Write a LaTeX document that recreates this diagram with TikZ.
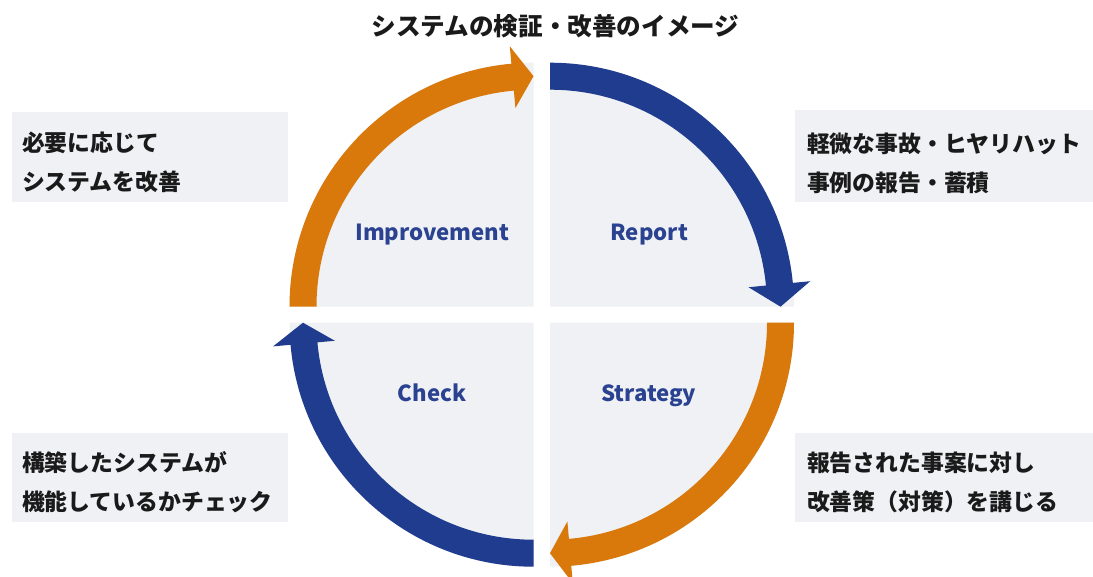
\documentclass[tikz,border=0pt]{standalone}
\usepackage{fontspec}
\setmainfont{Noto Sans CJK JP}
\definecolor{ink}{HTML}{1A1A1A}
\definecolor{navy}{HTML}{1F3C8E}
\definecolor{amber}{HTML}{D9780B}
\definecolor{panel}{HTML}{EFF1F5}
\definecolor{label}{HTML}{2A4290}

\begin{document}
\begin{tikzpicture}[x=0.2mm,y=0.2mm,text=ink,
  note/.style={font=\bfseries\fontsize{13}{22}\selectfont,align=left,anchor=west,inner sep=0pt},
  phase/.style={font=\bfseries\fontsize{12.6}{16}\selectfont,text=label,anchor=base}]
  \useasboundingbox (0,0) rectangle (1093,576);

  \node[font=\bfseries\fontsize{14}{16}\selectfont] (title) at (555.5,550)
    {システムの検証・改善のイメージ};

  % quarter panels with their curved arrows, clockwise from top left
  \foreach \cx/\cy/\a/\b/\t/\col in {533.5/269.3/180/95.2/90/amber,
      550/269.3/90/5.6/0/navy, 550/253.3/0/-85/-90/amber,
      533.5/253.3/270/185.2/180/navy} {
    \begin{scope}[shift={(\cx,\cy)}]
      \fill[panel] (0,0) -- (\a:244)
        arc[start angle=\a,end angle=\t,radius=244] -- cycle;
      \fill[\col] (\a:244) arc[start angle=\a,end angle=\b,radius=244]
        -- (\b:261.5) -- (\t:230.5) -- (\b:199.5) -- (\b:217)
        arc[start angle=\b,end angle=\a,radius=217] -- cycle;
    \end{scope}
  }

  \node[phase] (improvement) at (432.3,335.3) {Improvement};
  \node[phase] (report) at (649.2,335.3) {Report};
  \node[phase] (check) at (432,175) {Check};
  \node[phase] (strategy) at (648.8,175) {Strategy};

  % side notes
  \fill[panel] (11.7,374.3) rectangle (288,464.3);
  \fill[panel] (795,374.3) rectangle (1093,466);
  \fill[panel] (11.7,54.3) rectangle (288,143);
  \fill[panel] (795,54.3) rectangle (1093,143);

  \node[note] (improve-note) at (21.7,413.6) {必要に応じて\\システムを改善};
  \node[note] (report-note) at (806.7,412.7) {軽微な事故・ヒヤリハット\\事例の報告・蓄積};
  \node[note] (check-note) at (21.7,93.7) {構築したシステムが\\機能しているかチェック};
  \node[note] (strategy-note) at (806.7,93.7) {報告された事案に対し\\改善策（対策）を講じる};
\end{tikzpicture}
\end{document}
